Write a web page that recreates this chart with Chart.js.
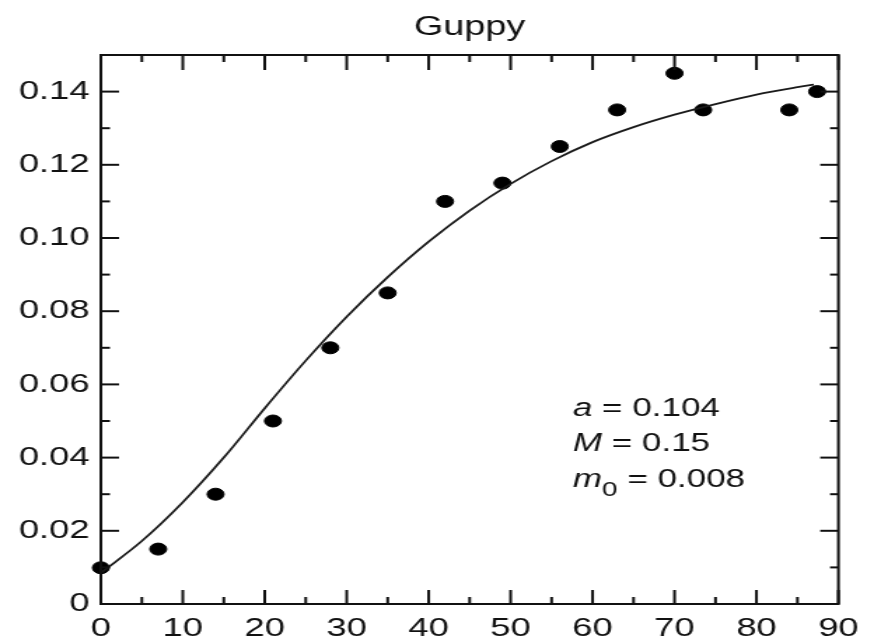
<!DOCTYPE html>
<html>
<head>
<meta charset="utf-8">
<script src="https://cdn.jsdelivr.net/npm/chart.js@4.4.1/dist/chart.umd.min.js"></script>
<style>
  html, body { margin: 0; padding: 0; background: #fff; }
</style>
</head>
<body>
<!-- drawn at 629 wide and shown at 881, the reference is stretched sideways -->
<canvas id="guppy" width="629" height="644" style="width:881px;height:644px"></canvas>
<script>
const age_days = [0, 7, 14, 21, 28, 35, 42, 49, 56, 63, 70, 73.5, 84, 87.4];
const mass_measured = [0.0099, 0.015, 0.030, 0.050, 0.070, 0.085, 0.110, 0.115, 0.125, 0.135, 0.145, 0.135, 0.135, 0.140];

const fit_days = [0, 5, 10, 15, 20, 25, 30, 35, 40, 45, 50, 55, 60, 65, 70, 75, 80, 85, 87];
const fit_mass = [0.0085, 0.0172, 0.0278, 0.0400, 0.0535, 0.0665, 0.0785, 0.0893, 0.0990, 0.1075, 0.1148, 0.1210, 0.1262, 0.1303, 0.1337, 0.1366, 0.1392, 0.1412, 0.1419];

const x_ticks = [0, 10, 20, 30, 40, 50, 60, 70, 80, 90];
const x_minor = [5, 15, 25, 35, 45, 55, 65, 75, 85];
const y_ticks = [0, 0.02, 0.04, 0.06, 0.08, 0.10, 0.12, 0.14];
const y_minor = [0.01, 0.03, 0.05, 0.07, 0.09, 0.11, 0.13];

const title_text = "Guppy";
const param_names = ["a", "M", "m"];
const param_subs = ["", "", "0"];
const param_values = ["0.104", "0.15", "0.008"];

const FONT = "'Liberation Sans', Arial, Helvetica, sans-serif";

const frame_plugin = {
  id: "frame",
  afterDraw(chart) {
    const { ctx, chartArea: { left, right, top, bottom }, scales: { x, y } } = chart;
    const seg = (x0, y0, x1, y1) => {
      ctx.beginPath();
      ctx.moveTo(x0, y0);
      ctx.lineTo(x1, y1);
      ctx.stroke();
    };
    ctx.save();
    ctx.strokeStyle = "#111";
    ctx.lineWidth = 2;
    ctx.strokeRect(left, top, right - left, bottom - top);

    // ticks point inward on all four sides
    x_ticks.forEach((v) => {
      const px = x.getPixelForValue(v);
      seg(px, bottom, px, bottom - 14);
      seg(px, top, px, top + 15);
    });
    x_minor.forEach((v) => {
      const px = x.getPixelForValue(v);
      seg(px, bottom, px, bottom - 7);
      seg(px, top, px, top + 7);
    });
    y_ticks.forEach((v) => {
      const py = y.getPixelForValue(v);
      seg(left, py, left + 13, py);
      seg(right, py, right - 13, py);
    });
    y_minor.forEach((v) => {
      const py = y.getPixelForValue(v);
      seg(left, py, left + 6.5, py);
      seg(right, py, right - 6, py);
    });

    // title
    ctx.fillStyle = "#111";
    ctx.textAlign = "center";
    ctx.textBaseline = "alphabetic";
    ctx.font = `27px ${FONT}`;
    ctx.fillText(title_text, (left + right) / 2, 35);

    // fit parameters, anchored in data units
    ctx.textAlign = "left";
    const x0 = x.getPixelForValue(57.6);
    param_names.forEach((name, i) => {
      const base = y.getPixelForValue(0.0515 - i * 0.0097);
      let cx = x0;
      ctx.font = `italic 25px ${FONT}`;
      ctx.fillText(name, cx, base);
      cx += ctx.measureText(name).width;
      if (param_subs[i]) {
        ctx.font = `20px ${FONT}`;
        ctx.fillText(param_subs[i], cx, base + 9);
        cx += ctx.measureText(param_subs[i]).width;
      }
      ctx.font = `25px ${FONT}`;
      ctx.fillText(" = " + param_values[i], cx, base);
    });
    ctx.restore();
  },
};

new Chart(document.getElementById("guppy"), {
  type: "scatter",
  data: {
    datasets: [
      {
        type: "line",
        data: fit_days.map((d, i) => ({ x: d, y: fit_mass[i] })),
        borderColor: "#1a1a1a",
        borderWidth: 1.8,
        pointRadius: 0,
        cubicInterpolationMode: "monotone",
        fill: false,
        clip: false,
      },
      {
        data: age_days.map((d, i) => ({ x: d, y: mass_measured[i] })),
        backgroundColor: "#000",
        borderColor: "#000",
        pointRadius: 6,
        pointHoverRadius: 6,
        clip: false,
      },
    ],
  },
  options: {
    responsive: false,
    devicePixelRatio: 1,
    animation: false,
    events: [],
    layout: {
      padding: { top: 55, right: 30.4, bottom: 0, left: 0 },
    },
    plugins: {
      legend: { display: false },
      tooltip: { enabled: false },
      title: { display: false },
    },
    scales: {
      x: {
        type: "linear",
        min: 0,
        max: 90,
        afterBuildTicks: (s) => { s.ticks = x_ticks.map((v) => ({ value: v })); },
        afterFit: (s) => { s.height = 40; },
        grid: { display: false, drawTicks: false },
        border: { display: false },
        ticks: {
          color: "#111",
          padding: 9,
          maxRotation: 0,
          font: { family: FONT, size: 26 },
          callback: (v) => String(v),
        },
      },
      y: {
        type: "linear",
        min: 0,
        max: 0.15,
        afterBuildTicks: (s) => { s.ticks = y_ticks.map((v) => ({ value: v })); },
        afterFit: (s) => { s.width = 72; },
        grid: { display: false, drawTicks: false },
        border: { display: false },
        ticks: {
          color: "#111",
          padding: 8,
          font: { family: FONT, size: 26 },
          callback: (v) => (v === 0 ? "0" : v.toFixed(2)),
        },
      },
    },
  },
  plugins: [frame_plugin],
});
</script>
</body>
</html>
